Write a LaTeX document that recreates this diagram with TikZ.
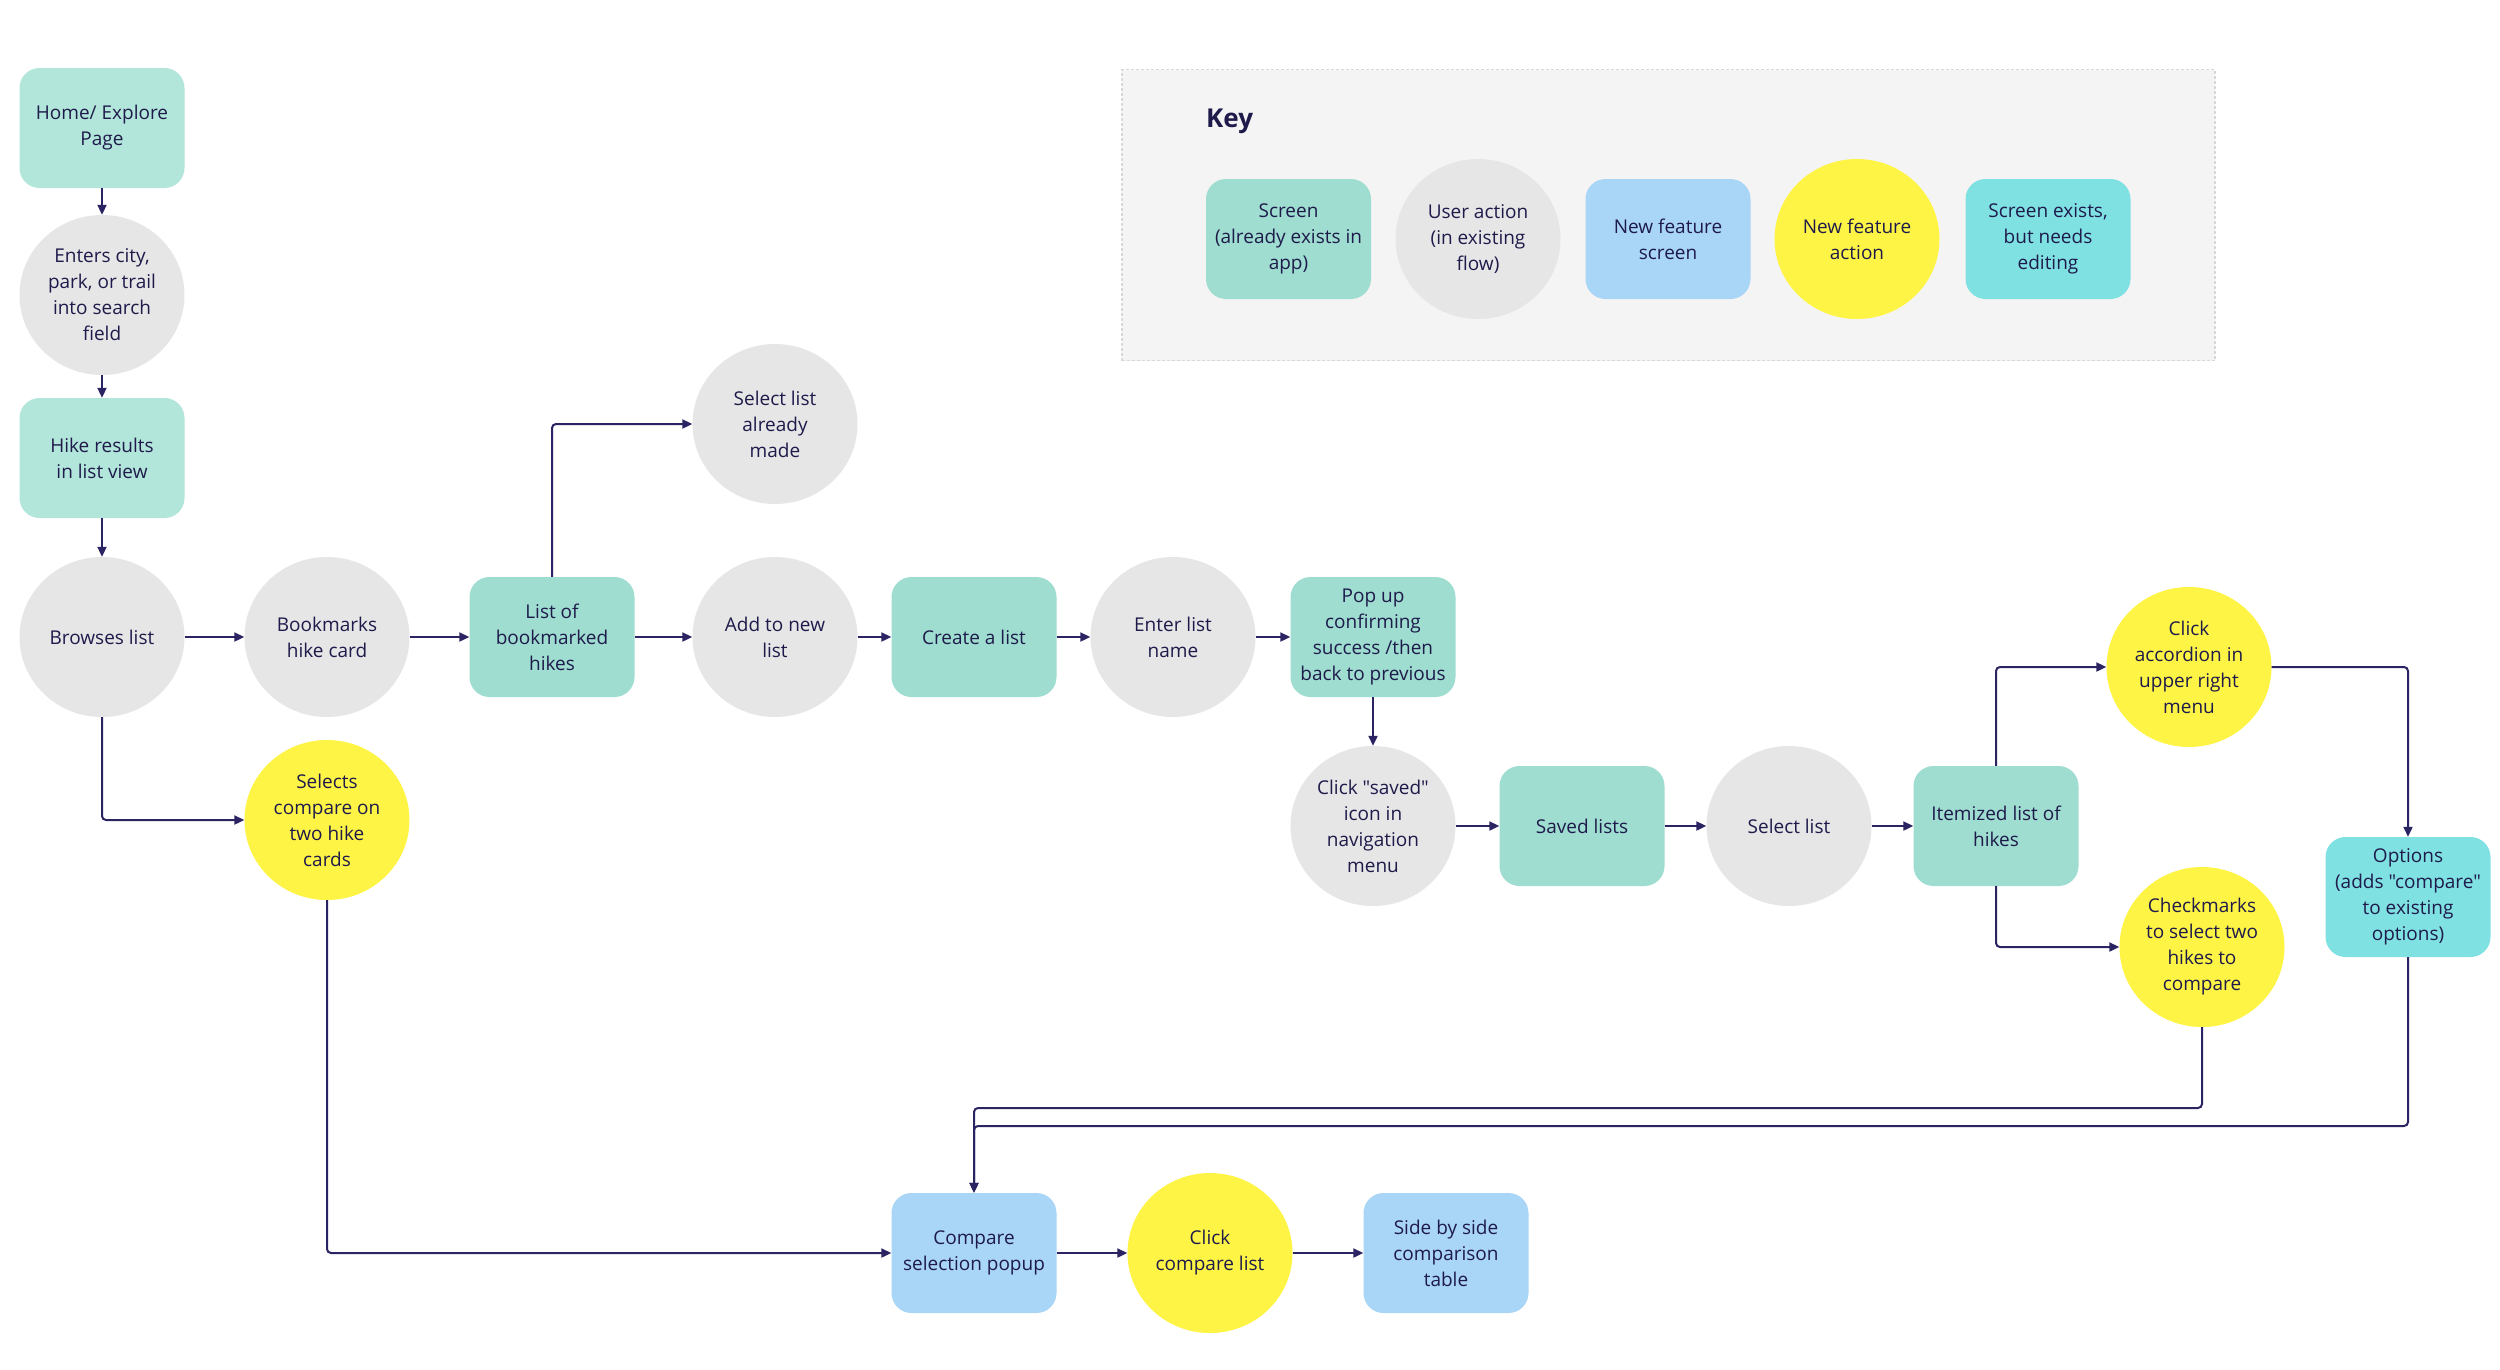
\documentclass[tikz,border=0pt]{standalone}
\usepackage{fontspec}
\setmainfont{Open Sans}[Ligatures=TeXOff]
\usetikzlibrary{shapes.geometric,arrows.meta}
\definecolor{scrA}{HTML}{B3E6DB}
\definecolor{scrB}{HTML}{9EDDD0}
\definecolor{actgray}{HTML}{E6E6E6}
\definecolor{newyel}{HTML}{FEF445}
\definecolor{newblue}{HTML}{A9D5F6}
\definecolor{editcyan}{HTML}{80E1E3}
\definecolor{txtnavy}{HTML}{1E1B4B}
\definecolor{linenavy}{HTML}{2B2463}
\definecolor{keybg}{HTML}{F4F4F4}
\definecolor{keyline}{HTML}{D8D8D8}
\tikzset{
  basefont/.style={font=\fontsize{19}{26}\selectfont, text=txtnavy, align=center},
  rectbox/.style={basefont, rectangle, rounded corners=20pt, minimum width=165pt, minimum height=120pt, inner sep=0pt},
  screenA/.style={rectbox, fill=scrA},
  screenB/.style={rectbox, fill=scrB},
  newscreen/.style={rectbox, fill=newblue},
  editscreen/.style={rectbox, fill=editcyan},
  ovalbase/.style={ellipse, minimum width=165pt, minimum height=160pt, inner sep=0pt},
  useract/.style={ovalbase, fill=actgray},
  newact/.style={ovalbase, fill=newyel},
  lbl/.style={basefont, inner sep=0pt},
  conn/.style={draw=linenavy, line width=2pt, rounded corners=4pt, -{Triangle[length=10pt,width=9pt]}},
}
\begin{document}
\begin{tikzpicture}[x=1pt,y=-1pt]
\useasboundingbox (0,0) rectangle (2500,1369);
\fill[white] (0,0) rectangle (2500,1369);

% Key
\node[draw=keyline, fill=keybg, dash pattern=on 3pt off 2pt, line width=1.5pt, minimum width=1093pt, minimum height=291pt, inner sep=0pt] (keybox) at (1668.5,215) {};
\node[basefont, font=\fontsize{26}{30}\selectfont\bfseries, anchor=west, inner sep=0pt] (keytitle) at (1206,121) {Key};
\node[screenB] (k1) at (1288.5,239) {Screen\\(already exists in\\app)};
\node[useract] (k2) at (1478,239) {};
\node[lbl] (k2t) at (k2) {User action\\(in existing\\flow)};
\node[newscreen] (k3) at (1668,239) {New feature\\screen};
\node[newact] (k4) at (1857,239) {};
\node[lbl] (k4t) at (k4) {New feature\\action};
\node[editscreen] (k5) at (2048,239) {Screen exists,\\but needs\\editing};

% Flow nodes
\node[screenA] (home) at (102,128) {Home/ Explore\\Page};
\node[useract] (enters) at (102,295) {};
\node[lbl] (enterst) at (enters) {Enters city,\\park, or trail\\into search\\field};
\node[screenA] (hike) at (102,458) {Hike results\\in list view};
\node[useract] (browses) at (102,637) {};
\node[lbl] (browsest) at (browses) {Browses list};
\node[useract] (bookmarks) at (327,637) {};
\node[lbl] (bookmarkst) at (bookmarks) {Bookmarks\\hike card};
\node[screenB] (listbm) at (552,637) {List of\\bookmarked\\hikes};
\node[useract] (selmade) at (775,424) {};
\node[lbl] (selmadet) at (selmade) {Select list\\already\\made};
\node[useract] (addnew) at (775,637) {};
\node[lbl] (addnewt) at (addnew) {Add to new\\list};
\node[screenB] (create) at (974,637) {Create a list};
\node[useract] (enter) at (1173,637) {};
\node[lbl] (entert) at (enter) {Enter list\\name};
\node[screenB] (popup) at (1373,637) {Pop up\\confirming\\success /then\\back to previous};
\node[useract] (clicksaved) at (1373,826) {};
\node[lbl] (clicksavedt) at (clicksaved) {Click "saved"\\icon in\\navigation\\menu};
\node[screenB] (saved) at (1582,826) {Saved lists};
\node[useract] (sellist) at (1789,826) {};
\node[lbl] (sellistt) at (sellist) {Select list};
\node[screenB] (itemized) at (1996,826) {Itemized list of\\hikes};
\node[newact] (accordion) at (2189,667) {};
\node[lbl] (accordiont) at (accordion) {Click\\accordion in\\upper right\\menu};
\node[newact] (checks) at (2202,947) {};
\node[lbl] (checkst) at (checks) {Checkmarks\\to select two\\hikes to\\compare};
\node[editscreen] (options) at (2408,897) {Options\\(adds "compare"\\to existing\\options)};
\node[newact] (selects) at (327,820) {};
\node[lbl] (selectst) at (selects) {Selects\\compare on\\two hike\\cards};
\node[newscreen] (compare) at (974,1253) {Compare\\selection popup};
\node[newact] (clickcmp) at (1210,1253) {};
\node[lbl] (clickcmpt) at (clickcmp) {Click\\compare list};
\node[newscreen] (side) at (1446,1253) {Side by side\\comparison\\table};

\coordinate (j1) at (0,1108);
\coordinate (j2) at (0,1126);

% Connectors
\draw[conn] (home.south) -- (enters.north);
\draw[conn] (enters.south) -- (hike.north);
\draw[conn] (hike.south) -- (browses.north);
\draw[conn] (browses.east) -- (bookmarks.west);
\draw[conn] (bookmarks.east) -- (listbm.west);
\draw[conn] (listbm.east) -- (addnew.west);
\draw[conn] (listbm.north) |- (selmade.west);
\draw[conn] (addnew.east) -- (create.west);
\draw[conn] (create.east) -- (enter.west);
\draw[conn] (enter.east) -- (popup.west);
\draw[conn] (popup.south) -- (clicksaved.north);
\draw[conn] (clicksaved.east) -- (saved.west);
\draw[conn] (saved.east) -- (sellist.west);
\draw[conn] (sellist.east) -- (itemized.west);
\draw[conn] (itemized.north) |- (accordion.west);
\draw[conn] (itemized.south) |- (checks.west);
\draw[conn] (accordion.east) -| (options.north);
\draw[conn] (checks.south) -- (checks.south |- j1) -| (compare.north);
\draw[conn] (options.south) -- (options.south |- j2) -| (compare.north);
\draw[conn] (browses.south) |- (selects.west);
\draw[conn] (selects.south) |- (compare.west);
\draw[conn] (compare.east) -- (clickcmp.west);
\draw[conn] (clickcmp.east) -- (side.west);
\end{tikzpicture}
\end{document}
